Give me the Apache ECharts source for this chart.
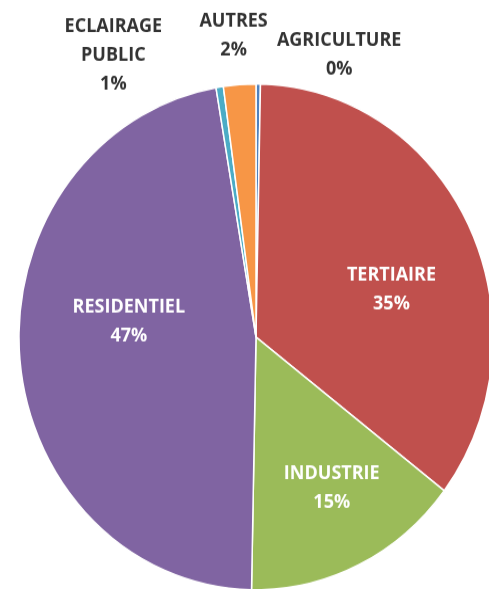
<!DOCTYPE html>
<html>
<head>
<meta charset="utf-8">
<script src="https://cdn.jsdelivr.net/npm/echarts@6/dist/echarts.min.js"></script>
<style>
html,body{margin:0;padding:0;background:#fff;overflow:hidden;}
#wrap{width:489px;height:589px;overflow:hidden;}
#chart{width:489px;height:552px;transform:scaleY(1.067);transform-origin:0 0;}
</style>
</head>
<body>
<div id="wrap"><div id="chart"></div></div>
<script>
// Data
const categories = ['AGRICULTURE', 'TERTIAIRE', 'INDUSTRIE', 'RESIDENTIEL', 'ECLAIRAGE\nPUBLIC', 'AUTRES'];
const values = [0.3, 35.1, 14.9, 47.0, 0.5, 2.2];

// Styles (kept apart from data)
const colors = ['#4F81BD', '#C0504D', '#9BBB59', '#8064A2', '#4BACC6', '#F79646'];
const labelColors = ['#333333', '#ffffff', '#ffffff', '#ffffff', '#333333', '#333333'];
const labelOffsets = [[82, -143], [26, 8], [23, 32], [-6, -24], [-124, -144], [-14, -161]];

const chart = echarts.init(document.getElementById('chart'), null, {renderer: 'canvas'});
chart.setOption({
  backgroundColor: '#ffffff',
  animation: false,
  series: [{
    type: 'pie',
    center: [256, 315.8],
    radius: [0, 237],
    startAngle: 90,
    clockwise: true,
    avoidLabelOverlap: false,
    itemStyle: {borderColor: '#ffffff', borderWidth: 1.5},
    labelLine: {show: false},
    label: {
      show: true,
      position: 'inside',
      fontFamily: 'Open Sans',
      fontWeight: 'bold',
      fontSize: 18,
      lineHeight: 27,
      align: 'center',
      formatter: p => p.name + '\n' + Math.round(p.value) + '%'
    },
    data: categories.map((c, i) => ({
      name: c,
      value: values[i],
      itemStyle: {color: colors[i]},
      label: {color: labelColors[i], offset: labelOffsets[i]}
    }))
  }]
});
</script>
</body>
</html>
